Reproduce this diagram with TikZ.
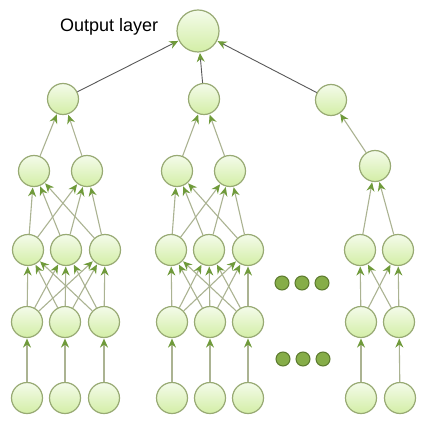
\documentclass[tikz,border=0pt]{standalone}
\usepackage{fontspec}
\setmainfont{Liberation Sans}
\usepackage{xcolor}
\usepackage{tikz}
\usetikzlibrary{positioning,arrows.meta}

\definecolor{nodeline}{HTML}{98AA74}
\definecolor{nodetop}{HTML}{F4FBEA}
\definecolor{nodebot}{HTML}{D3EEA6}
\definecolor{edgeline}{HTML}{ABB392}
\definecolor{tipgreen}{HTML}{6F9A3A}
\definecolor{dotfill}{HTML}{86AD48}
\definecolor{dotline}{HTML}{5C7A2E}

\tikzset{
  unit/.style={circle, draw=nodeline, line width=1.2pt, top color=nodetop,
    bottom color=nodebot, minimum size=31pt, inner sep=0pt},
  outunit/.style={unit, minimum size=42pt},
  conn/.style={draw=edgeline, line width=1.1pt,
    -{Stealth[length=9pt,width=8pt,inset=3pt,color=tipgreen]}, shorten >=0.5pt},
  topconn/.style={conn, draw=black!65, line width=0.9pt},
  blob/.style={circle, draw=dotline, line width=1pt, fill=dotfill,
    minimum size=14pt, inner sep=0pt}
}

\begin{document}
\begin{tikzpicture}[x=1pt, y=-1pt]
  \useasboundingbox[fill=white] (0,0) rectangle (434,435);

  \node[outunit] (out) at (198,31) {};
  \node[inner sep=0pt, left=18pt of out, yshift=4pt, font=\fontsize{18}{20}\selectfont] (lbl) {Output layer};

  \node[unit] (ga) at (63,99) {};
  \node[unit] (gb) at (204,99) {};
  \node[unit] (gc) at (331,100) {};

  \node[unit] (a21) at (34,171) {};
  \node[unit] (a22) at (87,171) {};
  \node[unit] (b21) at (177,171) {};
  \node[unit] (b22) at (230,171) {};
  \node[unit] (c21) at (375,166) {};

  \node[unit] (a31) at (28,250) {};
  \node[unit] (a32) at (66,250) {};
  \node[unit] (a33) at (105,250) {};
  \node[unit] (b31) at (171,250) {};
  \node[unit] (b32) at (209,250) {};
  \node[unit] (b33) at (248,250) {};
  \node[unit] (c31) at (360,250) {};
  \node[unit] (c32) at (398,250) {};

  \node[unit] (a41) at (27,322) {};
  \node[unit] (a42) at (65,322) {};
  \node[unit] (a43) at (104,322) {};
  \node[unit] (b41) at (172,322) {};
  \node[unit] (b42) at (210,322) {};
  \node[unit] (b43) at (248,322) {};
  \node[unit] (c41) at (361,322) {};
  \node[unit] (c42) at (399,322) {};

  \node[unit] (a51) at (27,398) {};
  \node[unit] (a52) at (65,398) {};
  \node[unit] (a53) at (104,398) {};
  \node[unit] (b51) at (172,398) {};
  \node[unit] (b52) at (210,398) {};
  \node[unit] (b53) at (248,398) {};
  \node[unit] (c51) at (361,398) {};
  \node[unit] (c52) at (400,398) {};

  \node[blob] (d1) at (282,283) {};
  \node[blob] (d2) at (302,283) {};
  \node[blob] (d3) at (322,283) {};
  \node[blob] (d4) at (283,359) {};
  \node[blob] (d5) at (303,359) {};
  \node[blob] (d6) at (323,359) {};

  \draw[topconn] (ga) -- (out);
  \draw[topconn] (gb) -- (out);
  \draw[topconn] (gc) -- (out);

  \draw[conn] (a21) -- (ga);
  \draw[conn] (a22) -- (ga);
  \draw[conn] (b21) -- (gb);
  \draw[conn] (b22) -- (gb);
  \draw[conn] (c21) -- (gc);

  \foreach \g in {a,b} {
    \foreach \i in {1,2,3} {
      \foreach \j in {1,2} \draw[conn] (\g3\i) -- (\g2\j);
      \foreach \j in {1,2,3} \draw[conn] (\g4\i) -- (\g3\j);
      \draw[conn] (\g5\i) -- (\g4\i);
    }
  }
  \foreach \i in {1,2} {
    \draw[conn] (c3\i) -- (c21);
    \foreach \j in {1,2} \draw[conn] (c4\i) -- (c3\j);
    \draw[conn] (c5\i) -- (c4\i);
  }
\end{tikzpicture}
\end{document}
